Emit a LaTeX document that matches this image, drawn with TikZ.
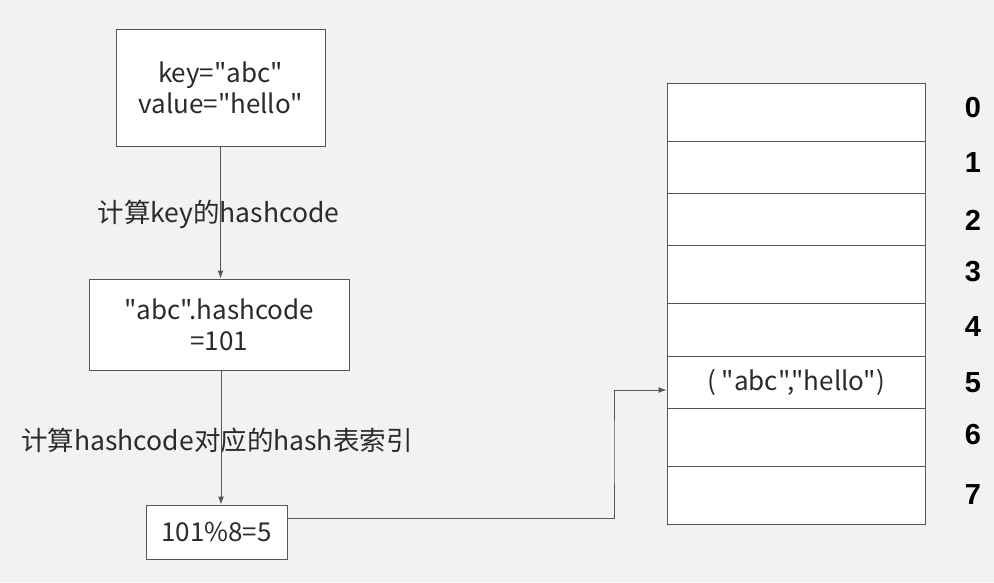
\documentclass[tikz,border=0pt]{standalone}
\usepackage{fontspec}
\setmainfont{Noto Sans CJK SC}[Ligatures=TeXOff]
\newfontfamily\numfont{Liberation Sans}[BoldFont={Liberation Sans Bold}]
\usetikzlibrary{arrows.meta}
\definecolor{bg}{HTML}{F2F2F4}
\definecolor{ln}{HTML}{555555}
\definecolor{tx}{HTML}{2B2B2B}
\tikzset{
  box/.style={draw=ln, line width=1pt, fill=white, inner sep=0pt, align=center, text=tx,
    font=\fontsize{26}{31}\selectfont},
  row/.style={box, minimum width=258pt},
  lbl/.style={text=tx, inner sep=0pt, font=\fontsize{26.5}{31}\selectfont},
  idx/.style={text=black, inner sep=0pt, font=\numfont\bfseries\fontsize{29}{30}\selectfont},
  arr/.style={draw=ln, line width=1pt, -{Latex[length=8pt,width=6pt]}},
}
\begin{document}
\begin{tikzpicture}[x=1pt,y=-1pt]
\fill[bg] (0,0) rectangle (994,582);
\useasboundingbox (0,0) rectangle (994,582);
% left column
\node[box, minimum width=209pt, minimum height=117pt] (kv) at (220.5,87.5) {key="abc"\\value="hello"};
\node[box, minimum width=260pt, minimum height=91pt] (hc) at (219,324.5) {"abc".hashcode\\=101};
\node[box, minimum width=141pt, minimum height=54pt] (mod) at (216.5,532) {101\%8=5};
\node[lbl] (l1) at (218.5,214) {计算key的hashcode};
\node[lbl] (l2) at (217,440) {计算hashcode对应的hash表索引};
% table
\node[row, minimum height=58pt] (r0) at (796,112) {};
\node[row, minimum height=52pt] (r1) at (796,167) {};
\node[row, minimum height=52pt] (r2) at (796,219) {};
\node[row, minimum height=58pt] (r3) at (796,274) {};
\node[row, minimum height=53pt] (r4) at (796,329.5) {};
\node[row, minimum height=52pt] (r5) at (796,382) {( "abc","hello")};
\node[row, minimum height=58pt] (r6) at (796,437) {};
\node[row, minimum height=58pt] (r7) at (796,495) {};
\node[idx] (i0) at (973,108) {0};
\node[idx] (i1) at (973,163) {1};
\node[idx] (i2) at (973,220) {2};
\node[idx] (i3) at (973,272) {3};
\node[idx] (i4) at (973,327) {4};
\node[idx] (i5) at (973,383) {5};
\node[idx] (i6) at (973,435) {6};
\node[idx] (i7) at (973,495) {7};
% connectors
\draw[arr] (kv.south) -- (kv.south |- hc.north);
\draw[arr] ([xshift=2pt]hc.south) -- ([xshift=2pt]hc.south |- mod.north);
\coordinate (bend) at (614,450);
\draw[arr] ([yshift=14pt]mod.east) -| (bend) |- ([yshift=-8pt]r5.west);
\end{tikzpicture}
\end{document}
